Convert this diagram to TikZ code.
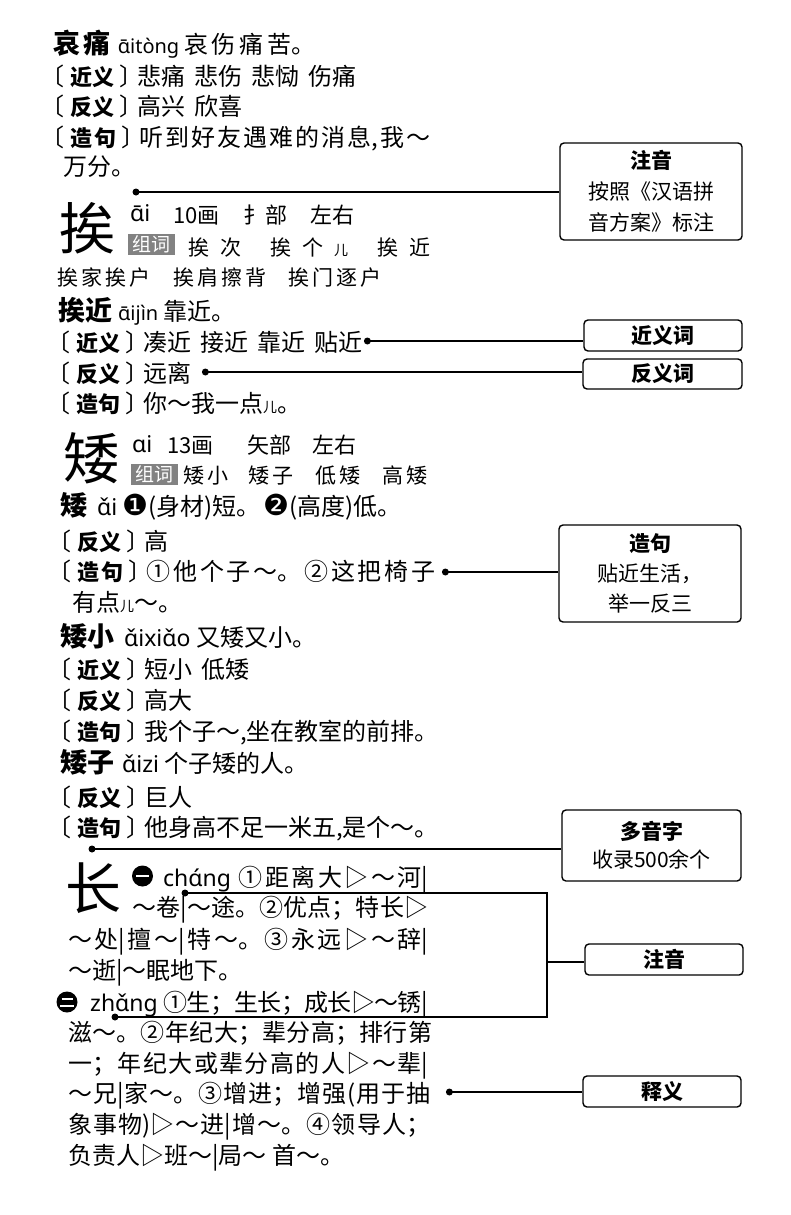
\documentclass[tikz,border=0pt]{standalone}
\usepackage{fontspec}
\setmainfont{Noto Sans CJK SC}
\newfontfamily\py{Noto Sans}
\newfontfamily\dv{DejaVu Sans}
\XeTeXlinebreaklocale "zh"
\XeTeXlinebreakskip=0pt plus 8pt minus 1pt
\definecolor{zcgray}{RGB}{130,130,130}
\newcommand{\lb}[1]{〔\kern6pt{\fontsize{22}{22}\selectfont\bfseries #1}\kern5pt〕\kern-6pt}
\newcommand{\gp}{\hspace{9pt}}
\newcommand{\er}{{\fontsize{14}{14}\selectfont 儿}}
\newcommand{\tr}{▷}
\newcommand{\jl}[2]{\parbox[b]{#1}{\parfillskip=0pt\relax\tolerance=10000\leavevmode #2}}
\newcommand{\hw}[1]{{\fontsize{27}{27}\selectfont\bfseries #1}}
\newcommand{\pyn}[1]{{\py\fontsize{20}{20}\selectfont #1}}
\newcommand{\pyh}[1]{{\py\fontsize{23}{23}\selectfont #1}}
\newcommand{\pyb}[1]{{\py\fontsize{23}{23}\selectfont #1}}
\newcommand{\dg}[1]{{\dv\fontsize{29}{29}\selectfont #1}}
\newcommand{\sk}{\kern11pt}
\newcommand{\sm}{\kern3pt}
\tikzset{
  tx/.style={anchor=base west, inner sep=0pt, font=\fontsize{24}{24}\selectfont},
  big/.style={anchor=center, inner sep=0pt, font=\fontsize{56}{56}\selectfont},
  hdr/.style={anchor=base west, inner sep=0pt, font=\fontsize{22}{22}\selectfont},
  kai/.style={anchor=base west, inner sep=0pt, font=\fontsize{21}{21}\selectfont},
  zc/.style={fill=zcgray, text=white, inner sep=0pt, minimum width=47pt, minimum height=21pt, font=\fontsize{19}{19}\selectfont},
  box/.style={draw, line width=1.4pt, rounded corners=4pt, fill=white, align=center, inner sep=0pt, font=\fontsize{21}{31}\selectfont},
  conn/.style={line width=1.3pt},
}
\begin{document}
\begin{tikzpicture}[x=1pt,y=-1pt]
\fill[white] (0,0) rectangle (790,1215);
\useasboundingbox (0,0) rectangle (790,1215);

% entry 1
\node[tx] (L1) at (53,54) {\jl{262pt}{\hw{哀痛}\hspace{7pt}\pyn{ɑ̄itònɡ}\hspace{5pt}哀伤痛苦。}};
\node[tx] (L2) at (40,85) {\lb{近义}悲痛\gp 悲伤\gp 悲恸\gp 伤痛};
\node[tx] (L3) at (40,115) {\lb{反义}高兴\gp 欣喜};
\node[tx] (L4) at (40,146) {\jl{390pt}{\lb{造句}听到好友遇难的消息,我～}};
\node[tx] (L5) at (63,175) {万分。};

% 挨
\node[big] (C1) at (87,228) {挨};
\node[hdr] (H1a) at (130,221) {\pyh{ɑ̄i}};
\node[hdr] (H1b) at (173,223) {10画};
\node[hdr] (H1c) at (243,223) {扌部};
\node[hdr] (H1d) at (310,223) {左右};
\node[zc] (Z1) at (151.5,244) {组词};
\node[kai] (W1a) at (188,255) {挨\sk 次};
\node[kai] (W1b) at (270,255) {挨\sk 个\sk\er};
\node[kai] (W1c) at (377,255) {挨\sk 近};
\node[kai] (W1d) at (57,285) {挨\sm 家\sm 挨\sm 户};
\node[kai] (W1e) at (173,285) {挨\sm 肩\sm 擦\sm 背};
\node[kai] (W1f) at (288,285) {挨\sm 门\sm 逐\sm 户};

\node[tx] (L8) at (58,320) {\hw{挨近}\hspace{6pt}\pyn{ɑ̄ijìn}\hspace{5pt}靠近。};
\node[tx] (L9) at (46,351) {\lb{近义}凑近\gp 接近\gp 靠近\gp 贴近};
\node[tx] (L10) at (46,382) {\lb{反义}远离};
\node[tx] (L11) at (46,412) {\lb{造句}你～我一点\er。};

% 矮
\node[big] (C2) at (91,458) {矮};
\node[hdr] (H2a) at (132,452) {\pyh{ɑi}};
\node[hdr] (H2b) at (167,453) {13画};
\node[hdr] (H2c) at (247,453) {矢部};
\node[hdr] (H2d) at (312,453) {左右};
\node[zc] (Z2) at (154.5,474) {组词};
\node[kai] (W2a) at (183,483) {矮\sm 小};
\node[kai] (W2b) at (248,483) {矮\sm 子};
\node[kai] (W2c) at (315,483) {低\sm 矮};
\node[kai] (W2d) at (382,483) {高\sm 矮};

\node[tx] (L13) at (60,515) {\hw{矮}\hspace{10pt}\pyb{ɑ̌i}\hspace{5pt}\dg{❶}(身材)短。\hspace{3pt}\dg{❷}(高度)低。};
\node[tx] (L14) at (47,550) {\lb{反义}高};
\node[tx] (L15) at (47,580) {\jl{388pt}{\lb{造句}①他个子～。②这把椅子}};
\node[tx] (L16) at (72,611) {有点\er～。};
\node[tx] (L17) at (60,646) {\hw{矮小}\hspace{10pt}\pyb{ɑ̌ixiɑ̌o}\hspace{6pt}又矮又小。};
\node[tx] (L18) at (47,678) {\lb{近义}短小\gp 低矮};
\node[tx] (L19) at (47,709) {\lb{反义}高大};
\node[tx] (L20) at (47,740) {\lb{造句}我个子～,坐在教室的前排。};
\node[tx] (L21) at (60,772) {\hw{矮子}\hspace{8pt}\pyb{ɑ̌izi}\hspace{5pt}个子矮的人。};
\node[tx] (L22) at (47,806) {\lb{反义}巨人};
\node[tx] (L23) at (47,836) {\lb{造句}他身高不足一米五,是个～。};

% 长
\node[big] (C3) at (93,888) {长};
\fill (142.5,876) circle[radius=10.5pt];
\draw[white, line width=2.4pt] (136,876) -- (149,876);
\node[tx] (L24) at (163,886) {\jl{265pt}{\pyb{chɑ́nɡ}\hspace{8pt}①距离大\tr～河|}};
\node[tx] (L25) at (132,916) {\jl{296pt}{～卷|～途。②优点；特长\tr}};
\node[tx] (L26) at (68,948) {\jl{360pt}{～处|擅～|特～。③永远\tr～辞|}};
\node[tx] (L27) at (68,979) {～逝|～眠地下。};
\fill (67,1002) circle[radius=10.5pt];
\draw[white, line width=2pt] (61.5,998.5) -- (72.5,998.5);
\draw[white, line width=2pt] (60,1005.5) -- (74,1005.5);
\node[tx] (L28) at (90,1011) {\jl{338pt}{\pyb{zhɑ̌nɡ}\hspace{6pt}①生；生长；成长\tr～锈|}};
\node[tx] (L29) at (68,1041) {\jl{364pt}{滋～。②年纪大；辈分高；排行第}};
\node[tx] (L30) at (68,1072) {\jl{360pt}{一；年纪大或辈分高的人\tr～辈|}};
\node[tx] (L31) at (68,1102) {\jl{362pt}{～兄|家～。③增进；增强(用于抽}};
\node[tx] (L32) at (68,1133) {\jl{362pt}{象事物)\tr～进|增～。④领导人；}};
\node[tx] (L33) at (68,1164) {负责人\tr 班～|局～ 首～。};

% callout boxes
\node[box, minimum width=182pt, minimum height=97pt] (zy1) at (651,191.5) {\textbf{注音}\\按照《汉语拼\\音方案》标注};
\node[box, minimum width=158pt, minimum height=31pt, font=\fontsize{21}{21}\selectfont\bfseries] (jyc) at (663,335.5) {近义词};
\node[box, minimum width=159pt, minimum height=30pt, font=\fontsize{21}{21}\selectfont\bfseries] (fyc) at (662.5,374) {反义词};
\node[box, minimum width=182pt, minimum height=97pt, font=\fontsize{21}{30}\selectfont] (zj) at (650,573.5) {\textbf{造句}\\贴近生活，\\举一反三};
\node[box, minimum width=179pt, minimum height=71pt, font=\fontsize{21}{28}\selectfont] (dyz) at (651.5,845.5) {\textbf{多音字}\\收录500余个};
\node[box, minimum width=158pt, minimum height=31pt, font=\fontsize{21}{21}\selectfont\bfseries] (zy2) at (664,959.5) {注音};
\node[box, minimum width=158pt, minimum height=31pt, font=\fontsize{21}{21}\selectfont\bfseries] (sy) at (662,1091.5) {释义};

% connector points
\coordinate (d1) at (136,192);
\coordinate (d2) at ([xshift=5pt,yshift=10pt]L9.base east);
\coordinate (d3) at ([xshift=14pt,yshift=10pt]L10.base east);
\coordinate (d4) at ([xshift=10pt,yshift=8pt]L15.base east);
\coordinate (d5) at (92,849);
\coordinate (d7) at ([xshift=19pt,yshift=10pt]L31.base east);
\coordinate (b1) at (185,893);
\coordinate (b2) at (547,893);
\coordinate (b3) at (547,1017);
\coordinate (b4) at (115,1017);
\coordinate (b5) at (547,962);

\draw[conn] (d1) -- (d1 -| zy1.west);
\draw[conn] (d2) -- (d2 -| jyc.west);
\draw[conn] (d3) -- (d3 -| fyc.west);
\draw[conn] (d4) -- (d4 -| zj.west);
\draw[conn] (d5) -- (d5 -| dyz.west);
\draw[conn] (d7) -- (d7 -| sy.west);
\draw[conn] (b1) -- (b2) -- (b3) -- (b4);
\draw[conn] (b5) -- (b5 -| zy2.west);
\foreach \p in {d1,d2,d3,d4,d5,d7,b1,b4} \fill (\p) circle[radius=3.5pt];
\end{tikzpicture}
\end{document}
